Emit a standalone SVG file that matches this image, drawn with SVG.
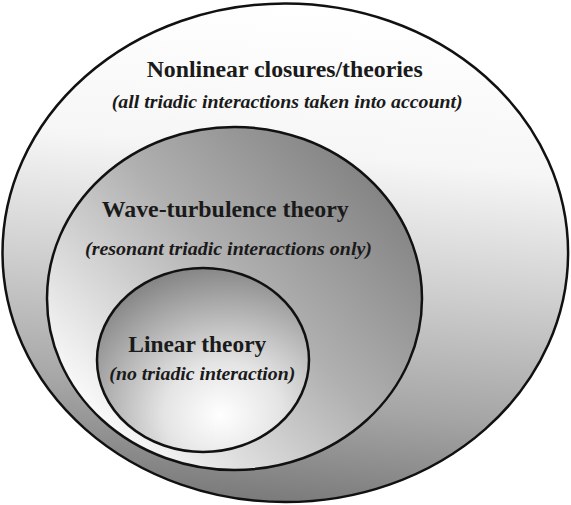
<svg xmlns="http://www.w3.org/2000/svg" width="571" height="505" viewBox="0 0 571 505">
  <defs>
    <linearGradient id="gOuter" x1="0.55" y1="0" x2="0.45" y2="1">
      <stop offset="0" stop-color="#ffffff"/>
      <stop offset="0.3" stop-color="#f6f6f6"/>
      <stop offset="0.55" stop-color="#cfcfcf"/>
      <stop offset="0.8" stop-color="#a5a5a5"/>
      <stop offset="1" stop-color="#7a7a7a"/>
    </linearGradient>
    <linearGradient id="gMiddle" x1="0.9" y1="0.2" x2="0.15" y2="0.85">
      <stop offset="0" stop-color="#858585"/>
      <stop offset="0.45" stop-color="#b0b0b0"/>
      <stop offset="1" stop-color="#f8f8f8"/>
    </linearGradient>
    <radialGradient id="gInner" cx="0.62" cy="0.78" r="0.8" fx="0.58" fy="0.8">
      <stop offset="0" stop-color="#ffffff"/>
      <stop offset="0.35" stop-color="#e4e4e4"/>
      <stop offset="1" stop-color="#858585"/>
    </radialGradient>
  </defs>
  <style>
    .shape { stroke: #111; stroke-width: 2.5; }
    text { font-family: "Liberation Serif", "Times New Roman", Times, Tinos, "DejaVu Serif", "Noto Serif", FreeSerif, Georgia, serif; fill: #1a1a1a; }
    .title { font-weight: bold; font-size: 24px; }
    .sub { font-weight: bold; font-style: italic; font-size: 18px; }
  </style>
  <g id="nonlinear">
    <ellipse class="shape" cx="285.3" cy="252.8" rx="282.8" ry="249.3" fill="url(#gOuter)"/>
    <text class="title" x="146.7" y="77" textLength="276" lengthAdjust="spacingAndGlyphs">Nonlinear closures/theories</text>
    <text class="sub" x="111.7" y="108" textLength="351" lengthAdjust="spacingAndGlyphs">(all triadic interactions taken into account)</text>
  </g>
  <g id="wave-turbulence">
    <ellipse class="shape" cx="234.5" cy="298.5" rx="187.5" ry="171.5" fill="url(#gMiddle)"/>
    <text class="title" x="101.7" y="217" textLength="247" lengthAdjust="spacingAndGlyphs">Wave-turbulence theory</text>
    <text class="sub" x="85" y="255" textLength="287" lengthAdjust="spacingAndGlyphs">(resonant triadic interactions only)</text>
  </g>
  <g id="linear">
    <ellipse class="shape" cx="203" cy="360" rx="106" ry="92" fill="url(#gInner)"/>
    <text class="title" x="128.3" y="352" textLength="138" lengthAdjust="spacingAndGlyphs">Linear theory</text>
    <text class="sub" x="109.3" y="380" textLength="186" lengthAdjust="spacingAndGlyphs">(no triadic interaction)</text>
  </g>
  <g id="connectors"/>
</svg>
